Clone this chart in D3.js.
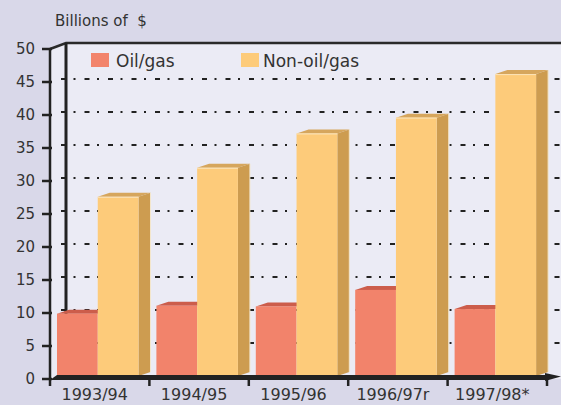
<!DOCTYPE html>
<html>
<head>
<meta charset="utf-8">
<script src="https://cdn.jsdelivr.net/npm/d3@7"></script>
<style>
  html, body { margin: 0; padding: 0; background: #d9d8e9; }
  svg { display: block; font-family: "DejaVu Sans", sans-serif; }
</style>
</head>
<body>
<svg id="chart" width="561" height="405"></svg>
<script>
const categories = ['1993/94', '1994/95', '1995/96', '1996/97r', '1997/98*']
const oilGas = [9.9, 11.1, 11.0, 13.5, 10.6]
const nonOilGas = [27.6, 32.0, 37.2, 39.6, 46.2]
const yTicks = [0, 5, 10, 15, 20, 25, 30, 35, 40, 45, 50]

const width = 561
const depth = { dx: 12, dy: 4 }
const wall = { dx: 16, dy: 6 }

const svg = d3.select('#chart')

const y = d3.scaleLinear().domain([0, 50]).range([379, 49])
const x = d3.scaleBand().domain(categories).range([50, 547])
const barW = x.step() * 0.41
const floorY = y(0) - 3

// plot area background
svg.append('path')
  .attr('d', `M50,${y(50)} L${50 + wall.dx},${y(50) - wall.dy} L${width},${y(50) - wall.dy} L${width},${y(0)} L50,${y(0)} Z`)
  .attr('fill', '#ebebf5')

// gridlines on the back wall
svg.append('g')
  .selectAll('line')
  .data(yTicks.filter(d => d > 0 && d < 50))
  .join('line')
  .attr('x1', 61)
  .attr('x2', width)
  .attr('y1', d => y(d) - 3)
  .attr('y2', d => y(d) - 3)
  .attr('stroke', '#222')
  .attr('stroke-width', 2)
  .attr('stroke-dasharray', '5,7.5,2,9')

// back wall frame
svg.append('path')
  .attr('d', `M50,${y(50)} L${50 + wall.dx},${y(50) - wall.dy} L${width},${y(50) - wall.dy}`)
  .attr('fill', 'none')
  .attr('stroke', '#2a2a2a')
  .attr('stroke-width', 2.5)
svg.append('line')
  .attr('x1', 50 + wall.dx).attr('x2', 50 + wall.dx)
  .attr('y1', y(50) - wall.dy).attr('y2', floorY)
  .attr('stroke', '#222')
  .attr('stroke-width', 3)

// bars
const groups = svg.append('g')
  .selectAll('g')
  .data(categories.map((c, i) => ({ c, oil: oilGas[i], non: nonOilGas[i] })))
  .join('g')

function topFace (x0, yt, w) {
  return `M${x0},${yt} L${x0 + depth.dx},${yt - depth.dy} L${x0 + w + depth.dx},${yt - depth.dy} L${x0 + w},${yt} Z`
}
function sideFace (x0, yt, w) {
  return `M${x0 + w},${yt} L${x0 + w + depth.dx},${yt - depth.dy} L${x0 + w + depth.dx},${floorY - depth.dy} L${x0 + w},${floorY} Z`
}

// oil/gas
groups.append('path')
  .attr('d', d => topFace(x(d.c) + 7, y(d.oil), barW))
  .attr('fill', '#cc5d4b')
groups.append('rect')
  .attr('x', d => x(d.c) + 7)
  .attr('y', d => y(d.oil))
  .attr('width', barW)
  .attr('height', d => floorY - y(d.oil))
  .attr('fill', '#f2836b')

// non-oil/gas
groups.append('path')
  .attr('d', d => topFace(x(d.c) + 7 + barW, y(d.non), barW))
  .attr('fill', '#d6a65d')
groups.append('path')
  .attr('d', d => sideFace(x(d.c) + 7 + barW, y(d.non), barW))
  .attr('fill', '#cd9c50')
groups.append('line')
  .attr('x1', d => x(d.c) + 7 + 2 * barW + depth.dx)
  .attr('x2', d => x(d.c) + 7 + 2 * barW + depth.dx)
  .attr('y1', d => y(d.non) - depth.dy)
  .attr('y2', floorY - depth.dy)
  .attr('stroke', '#f3e6cc')
  .attr('stroke-width', 1)
groups.append('rect')
  .attr('x', d => x(d.c) + 7 + barW)
  .attr('y', d => y(d.non))
  .attr('width', barW)
  .attr('height', d => floorY - y(d.non))
  .attr('fill', '#fdcb7a')
groups.append('line')
  .attr('x1', d => x(d.c) + 7 + barW)
  .attr('x2', d => x(d.c) + 7 + 2 * barW)
  .attr('y1', d => y(d.non) + 0.5)
  .attr('y2', d => y(d.non) + 0.5)
  .attr('stroke', '#fbe3b8')
  .attr('stroke-width', 1)

// floor with arrow
svg.append('path')
  .attr('d', `M50,${y(0) + 1} L57,${floorY - 1} L547,${floorY - 1} L547,${y(0) + 1} Z`)
  .attr('fill', '#222')
svg.append('path')
  .attr('d', `M545,${floorY - 3} L561,${floorY + 0.5} L545,${y(0) + 2} Z`)
  .attr('fill', '#222')

// x axis ticks and labels
svg.append('g')
  .selectAll('line')
  .data(categories.map(c => x(c)).concat([x.range()[1]]))
  .join('line')
  .attr('x1', d => d).attr('x2', d => d)
  .attr('y1', y(0)).attr('y2', y(0) + 7)
  .attr('stroke', '#222')
  .attr('stroke-width', 2.5)

svg.append('g')
  .selectAll('text')
  .data(categories)
  .join('text')
  .attr('x', d => x(d) + x.bandwidth() / 2 - 5)
  .attr('y', 400)
  .attr('text-anchor', 'middle')
  .attr('font-size', 16)
  .attr('fill', '#333')
  .text(d => d)

// y axis
svg.append('line')
  .attr('x1', 50).attr('x2', 50)
  .attr('y1', y(50)).attr('y2', y(0) + 1)
  .attr('stroke', '#222')
  .attr('stroke-width', 2.5)

const yAxis = svg.append('g')
yAxis.selectAll('line')
  .data(yTicks)
  .join('line')
  .attr('x1', 42).attr('x2', 52)
  .attr('y1', d => y(d)).attr('y2', d => y(d))
  .attr('stroke', '#222')
  .attr('stroke-width', 2.5)
yAxis.selectAll('text')
  .data(yTicks)
  .join('text')
  .attr('x', 35)
  .attr('y', d => y(d) + 5)
  .attr('text-anchor', 'end')
  .attr('font-size', 15)
  .attr('fill', '#333')
  .text(d => d)

svg.append('text')
  .attr('x', 55)
  .attr('y', 26)
  .attr('font-size', 15)
  .attr('fill', '#333')
  .attr('xml:space', 'preserve')
  .style('white-space', 'pre')
  .text('Billions of  $')

// legend
const legend = svg.append('g')
const legendItems = [
  { label: 'Oil/gas', color: '#f2836b', x: 91, tx: 116 },
  { label: 'Non-oil/gas', color: '#fdcb7a', x: 241, tx: 263 }
]
legend.selectAll('rect')
  .data(legendItems)
  .join('rect')
  .attr('x', d => d.x)
  .attr('y', 53)
  .attr('width', 18)
  .attr('height', 14)
  .attr('fill', d => d.color)
legend.selectAll('text')
  .data(legendItems)
  .join('text')
  .attr('x', d => d.tx)
  .attr('y', 66.5)
  .attr('font-size', 17)
  .attr('fill', '#333')
  .text(d => d.label)
</script>
</body>
</html>
